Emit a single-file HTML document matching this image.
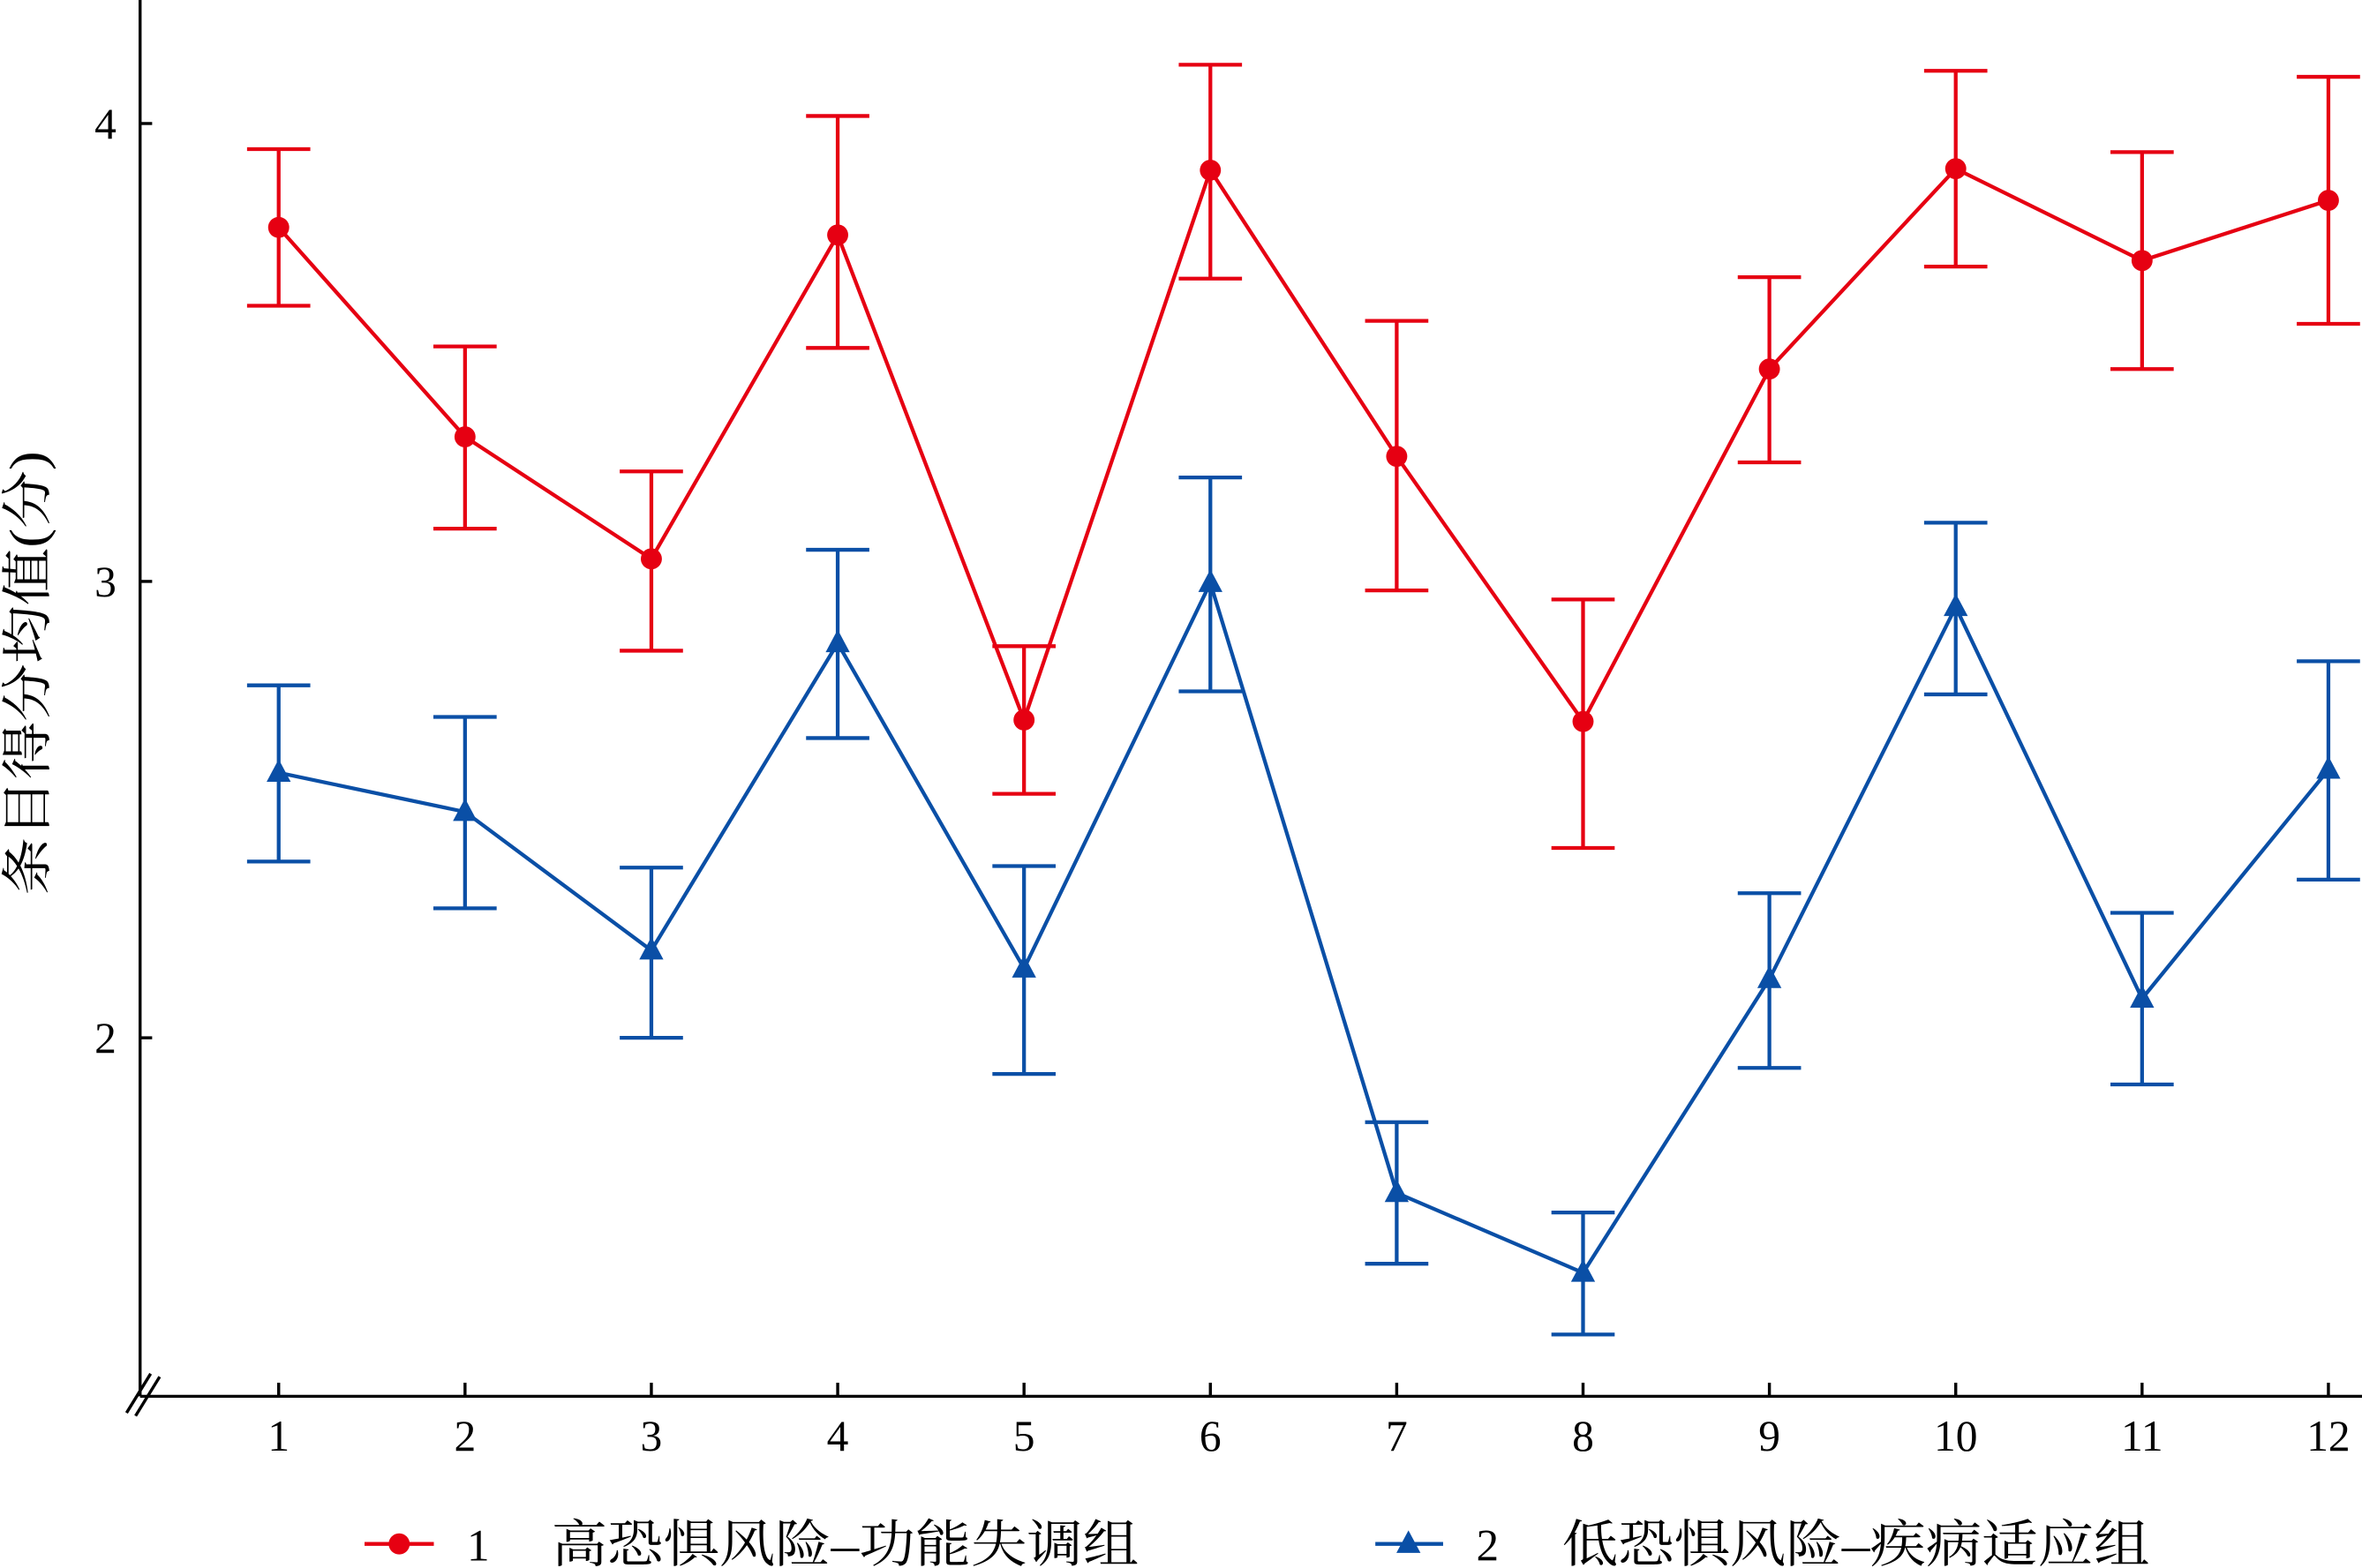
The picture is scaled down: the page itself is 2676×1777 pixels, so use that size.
<!DOCTYPE html>
<html><head><meta charset="utf-8"><style>
html,body{margin:0;padding:0;background:#fff;}
svg{display:block;}
text{font-family:"Liberation Serif","Noto Serif CJK SC",serif;fill:#000;}
</style></head><body>
<svg width="2676" height="1777" viewBox="0 0 1568 1041" preserveAspectRatio="none" xmlns="http://www.w3.org/2000/svg">
<g stroke="#000" stroke-width="2" fill="none">
<line x1="93" y1="0" x2="93" y2="927"/>
<line x1="93" y1="927" x2="1568" y2="927"/>
<line x1="84" y1="938" x2="100" y2="912" stroke-width="2"/>
<line x1="90" y1="940" x2="106" y2="914" stroke-width="2"/>
<line x1="93" y1="82" x2="101" y2="82"/>
<line x1="93" y1="386" x2="101" y2="386"/>
<line x1="93" y1="689" x2="101" y2="689"/>
</g>
<g font-size="29" text-anchor="middle">
<text x="70" y="92">4</text><text x="70" y="396">3</text><text x="70" y="699">2</text>
</g>
<g id="xt" stroke="#000" stroke-width="2"></g>
<g id="xl" font-size="29" text-anchor="middle"></g>
<text transform="translate(30,447) rotate(-90)" font-size="34" text-anchor="middle" textLength="295" lengthAdjust="spacingAndGlyphs" font-family="'Noto Serif CJK SC','Noto Sans CJK SC',serif">条目得分均值(分)</text>
<g id="red" stroke="#e60012" stroke-width="2.5" fill="none"></g>
<g id="blue" stroke="#0a4fa6" stroke-width="2.5" fill="none"></g>
<g font-size="30">
<line x1="242" y1="1025" x2="288" y2="1025" stroke="#e60012" stroke-width="2.5"/>
<circle cx="265" cy="1025" r="7" fill="#e60012"/>
<text x="310" y="1036">1</text>
<text x="366" y="1037" font-size="34" textLength="390" lengthAdjust="spacingAndGlyphs" font-family="'Noto Serif CJK SC','Noto Sans CJK SC',serif">高恐惧风险–功能失调组</text>
<line x1="913" y1="1025" x2="958" y2="1025" stroke="#0a4fa6" stroke-width="2.5"/>
<polygon points="935,1016 943,1031 927,1031" fill="#0a4fa6"/>
<text x="980" y="1036">2</text>
<text x="1037" y="1037" font-size="34" textLength="390" lengthAdjust="spacingAndGlyphs" font-family="'Noto Serif CJK SC','Noto Sans CJK SC',serif">低恐惧风险–疾病适应组</text>
</g>
</svg>
<script>
const NS="http://www.w3.org/2000/svg";
function el(p,t,a){const e=document.createElementNS(NS,t);for(const k in a)e.setAttribute(k,a[k]);p.appendChild(e);return e;}
const xs=[];for(let i=0;i<12;i++)xs.push(185+i*123.7);
const xt=document.getElementById('xt'),xl=document.getElementById('xl');
xs.forEach((x,i)=>{el(xt,'line',{x1:x,y1:927,x2:x,y2:918});const t=el(xl,'text',{x:x,y:963});t.textContent=i+1;});
const R=[[151,99,203],[290,230,351],[371,313,432],[156,77,231],[478,429,527],[113,43,185],[303,213,392],[479,398,563],[245,184,307],[112,47,177],[173,101,245],[133,51,215]];
const B=[[513,455,572],[539,476,603],[631,576,689],[427,365,490],[643,575,713],[387,317,459],[792,745,839],[845,805,886],[650,593,709],[403,347,461],[663,606,720],[511,439,584]];
function draw(g,d,col,tri){
 el(g,'polyline',{points:d.map((v,i)=>xs[i]+','+v[0]).join(' ')});
 d.forEach((v,i)=>{const x=xs[i];
  el(g,'line',{x1:x,y1:v[1],x2:x,y2:v[2]});
  el(g,'line',{x1:x-21,y1:v[1],x2:x+21,y2:v[1]});
  el(g,'line',{x1:x-21,y1:v[2],x2:x+21,y2:v[2]});
  if(tri) el(g,'polygon',{points:`${x},${v[0]-9} ${x+8},${v[0]+6} ${x-8},${v[0]+6}`,fill:col,stroke:'none'});
  else el(g,'circle',{cx:x,cy:v[0],r:7,fill:col,stroke:'none'});
 });
}
draw(document.getElementById('red'),R,'#e60012',false);
draw(document.getElementById('blue'),B,'#0a4fa6',true);
</script>
</body></html>
